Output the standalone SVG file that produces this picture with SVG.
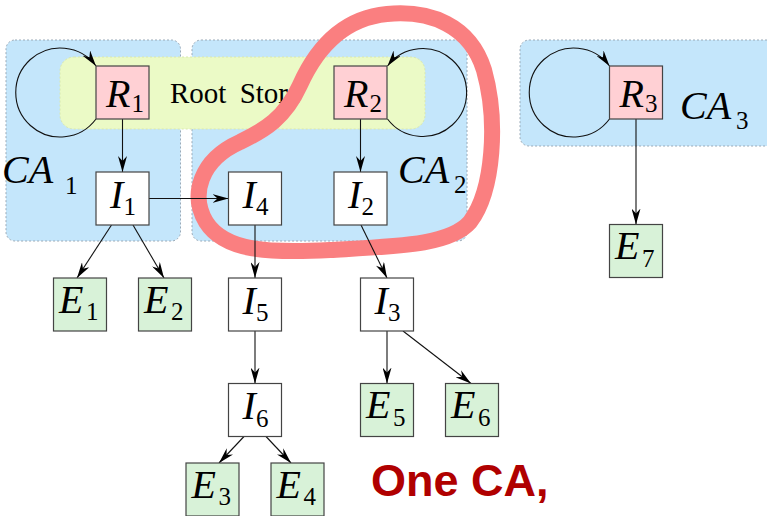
<svg xmlns="http://www.w3.org/2000/svg" width="767" height="516" viewBox="0 0 767 516">
<style>
.ca{fill:#c4e6fb;stroke:#9aaab8;stroke-width:1;stroke-dasharray:2 2}
.rs{fill:#ebfac6;stroke:#d8e8b0;stroke-width:1;stroke-dasharray:2 2}
.box{stroke:#444;stroke-width:1.2}
.r{fill:#ffd0d4}
.i{fill:#fff}
.e{fill:#d8f2d8}
.lbl{font-family:"Liberation Serif",serif;font-style:italic;font-size:40px;fill:#000}
.sub{font-style:normal;font-size:25px}
.cal{font-family:"Liberation Serif",serif;font-style:italic;font-size:40px;fill:#000}
.edge{fill:none;stroke:#111;stroke-width:1.1;marker-end:url(#ah)}
</style>
<defs>
<marker id="ah" viewBox="0 0 16 9" refX="16" refY="4.5" markerWidth="16" markerHeight="9" markerUnits="userSpaceOnUse" orient="auto">
<path d="M0,0 L16,4.5 L0,9 L5,4.5 Z" fill="#000"/>
</marker>
</defs>
<g id="clusters">
<rect class="ca" x="6" y="40" width="174.5" height="201" rx="9"/>
<rect class="ca" x="192" y="40" width="275" height="201" rx="9"/>
<rect class="ca" x="520" y="40" width="262" height="106" rx="9"/>
<rect class="rs" x="60" y="57" width="365" height="72" rx="14"/>
<text x="170" y="103" font-family="Liberation Serif, serif" font-size="29" word-spacing="6">Root Store</text>
<text class="cal" x="2" y="182.5">CA<tspan class="sub" x="65" y="194">1</tspan></text>
<text class="cal" x="398" y="182.5">CA<tspan class="sub" x="454" y="192.5">2</tspan></text>
<text class="cal" x="680" y="119">CA<tspan class="sub" x="736" y="129">3</tspan></text>
</g>
<g id="highlight">
<path d="M387 14 C430 10,470 25,484 70 C498 120,494 190,470 222 C450 245,400 246,330 250 C270 253,225 252,206 222 C190 195,200 160,240 142 C265 130,285 118,300 85 C318 45,345 18,387 14 Z" fill="none" stroke="#fa7f80" stroke-width="16"/>
</g>
<g id="connectors">
<path class="edge" d="M96 119 A44.5 44.5 0 1 1 96 66"/>
<path class="edge" d="M387.5 119 A44 44 0 1 0 387.5 66"/>
<path class="edge" d="M609.5 119 A44.5 44.5 0 1 1 609.5 66"/>
<path class="edge" d="M122.5 119 V172"/>
<path class="edge" d="M149 198.5 H228.5"/>
<path class="edge" d="M360.5 119 V172"/>
<path class="edge" d="M636 119 V224.5"/>
<path class="edge" d="M111.5 225 L77 278"/>
<path class="edge" d="M133 225 L164 278"/>
<path class="edge" d="M255 225 V278"/>
<path class="edge" d="M361 225 L387 278"/>
<path class="edge" d="M255 331 V383.5"/>
<path class="edge" d="M387 331 V383.5"/>
<path class="edge" d="M403 331 L471 383.5"/>
<path class="edge" d="M244 436.5 L219 463"/>
<path class="edge" d="M266 436.5 L291 463"/>
</g>
<g id="R1"><rect class="box r" x="96" y="66" width="53" height="53"/><text class="lbl" x="106" y="107">R<tspan class="sub" x="131.5" y="111.5">1</tspan></text></g>
<g id="R2"><rect class="box r" x="334" y="66" width="53" height="53"/><text class="lbl" x="344" y="107">R<tspan class="sub" x="369.5" y="111.5">2</tspan></text></g>
<g id="R3"><rect class="box r" x="609.5" y="66" width="53" height="53"/><text class="lbl" x="619.5" y="107">R<tspan class="sub" x="645" y="111.5">3</tspan></text></g>
<g id="I1"><rect class="box i" x="96" y="172" width="53" height="53"/><text class="lbl" x="110" y="207.5">I<tspan class="sub" x="123.5" y="215">1</tspan></text></g>
<g id="I4"><rect class="box i" x="228.5" y="172" width="53" height="53"/><text class="lbl" x="242.5" y="207.5">I<tspan class="sub" x="256" y="215">4</tspan></text></g>
<g id="I2"><rect class="box i" x="334" y="172" width="53" height="53"/><text class="lbl" x="348" y="207.5">I<tspan class="sub" x="361.5" y="215">2</tspan></text></g>
<g id="I5"><rect class="box i" x="228.5" y="278" width="53" height="53"/><text class="lbl" x="242.5" y="313.5">I<tspan class="sub" x="256" y="321">5</tspan></text></g>
<g id="I3"><rect class="box i" x="360.5" y="278" width="53" height="53"/><text class="lbl" x="374.5" y="313.5">I<tspan class="sub" x="388" y="321">3</tspan></text></g>
<g id="I6"><rect class="box i" x="228.5" y="383.5" width="53" height="53"/><text class="lbl" x="242.5" y="419">I<tspan class="sub" x="256" y="426.5">6</tspan></text></g>
<g id="E1"><rect class="box e" x="53.5" y="278" width="53" height="53"/><text class="lbl" x="59" y="312.5">E<tspan class="sub" x="86" y="320">1</tspan></text></g>
<g id="E2"><rect class="box e" x="138.5" y="278" width="53" height="53"/><text class="lbl" x="144" y="312.5">E<tspan class="sub" x="171" y="320">2</tspan></text></g>
<g id="E5"><rect class="box e" x="360.5" y="383.5" width="53" height="53"/><text class="lbl" x="366" y="418">E<tspan class="sub" x="393" y="425.5">5</tspan></text></g>
<g id="E6"><rect class="box e" x="445.5" y="383.5" width="53" height="53"/><text class="lbl" x="451" y="418">E<tspan class="sub" x="478" y="425.5">6</tspan></text></g>
<g id="E3"><rect class="box e" x="186" y="463" width="53" height="53"/><text class="lbl" x="191.5" y="497.5">E<tspan class="sub" x="218.5" y="505">3</tspan></text></g>
<g id="E4"><rect class="box e" x="271" y="463" width="53" height="53"/><text class="lbl" x="276.5" y="497.5">E<tspan class="sub" x="303.5" y="505">4</tspan></text></g>
<g id="E7"><rect class="box e" x="609.5" y="224.5" width="53" height="53"/><text class="lbl" x="615" y="259">E<tspan class="sub" x="642" y="266.5">7</tspan></text></g>
<text x="371" y="496" font-family="Liberation Sans, Arial, sans-serif" font-weight="bold" font-size="45" fill="#b00000">One CA,</text>
</svg>
